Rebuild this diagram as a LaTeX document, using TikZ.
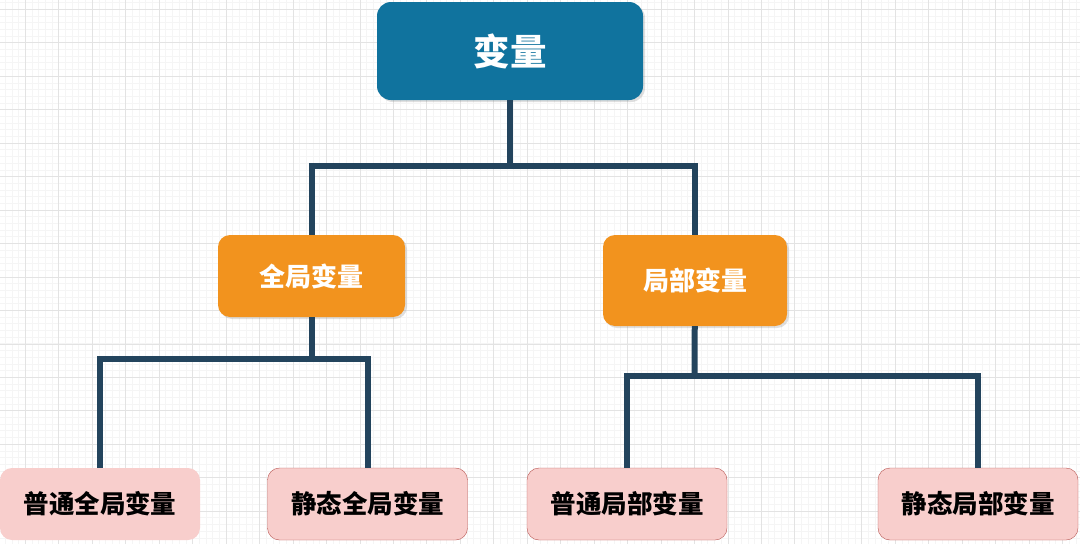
\documentclass[tikz,border=0pt]{standalone}
\usepackage{fontspec}
\setmainfont{Noto Sans CJK SC}
\usepackage{tikz}
\usetikzlibrary{positioning, shadows}

\definecolor{topblue}{HTML}{10739E}
\definecolor{midorange}{HTML}{F2931E}
\definecolor{leafpink}{HTML}{F8CECC}
\definecolor{leafline}{HTML}{B85450}
\definecolor{connblue}{HTML}{23445D}
\definecolor{gridminor}{HTML}{F5F5F5}
\definecolor{gridmajor}{HTML}{E3E3E3}

\begin{document}
\begin{tikzpicture}[x=1pt, y=-1pt]
\tikzstyle{root}=[rectangle, rounded corners=14pt, fill=topblue, text=white,
        minimum width=266pt, minimum height=98pt, font=\bfseries\fontsize{36.5}{40}\selectfont,
        drop shadow={shadow xshift=2pt, shadow yshift=-2pt, opacity=0.25}]
\tikzstyle{branch}=[rectangle, rounded corners=12pt, fill=midorange, text=white,
        font=\bfseries\fontsize{26}{30}\selectfont,
        drop shadow={shadow xshift=2pt, shadow yshift=-2pt, opacity=0.25}]
\tikzstyle{leaf}=[rectangle, rounded corners=12pt, fill=leafpink, draw=leafline, text=black,
        minimum width=200pt, minimum height=72pt, font=\bfseries\fontsize{25.5}{30}\selectfont]
\tikzstyle{conn}=[-, draw=connblue, line width=6pt]

\def \dx {33.46}
\def \mx {6.692}

    \useasboundingbox (0,0) rectangle (1080,544);
    % background grid
    \begin{scope}
    \clip (0,0) rectangle (1080,544);
    \fill[white] (0,0) rectangle (1080,544);
    \foreach \i in {0,...,162}{
        \draw[gridminor, line width=0.8pt] ({-8.16+\i*\mx},0) -- ({-8.16+\i*\mx},544);
    }
    \foreach \i in {0,...,82}{
        \draw[gridminor, line width=0.8pt] (0,{2.6+\i*\mx}) -- (1080,{2.6+\i*\mx});
    }
    \foreach \i in {0,...,32}{
        \draw[gridmajor, line width=0.8pt] ({25.3+\i*\dx},0) -- ({25.3+\i*\dx},544);
    }
    \foreach \i in {0,...,16}{
        \draw[gridmajor, line width=0.8pt] (0,{9.3+\i*\dx}) -- (1080,{9.3+\i*\dx});
    }
    \end{scope}

    \node (var) [root] at (510,51) {变量};

    \node (glob) [branch, minimum width=187pt, minimum height=82pt] at (311.5,276) {全局变量};
    \node (loc) [branch, minimum width=184pt, minimum height=91pt] at (695,280.5) {局部变量};

    \node (pglob) [leaf, draw=none] at (100,504) {普通全局变量};
    \node (sglob) [leaf] at (367.5,504) {静态全局变量};
    \node (ploc) [leaf] at (627,504) {普通局部变量};
    \node (sloc) [leaf] at (978,504) {静态局部变量};

    \coordinate (j1) at (510,166);
    \coordinate (j2) at (311.5,359);
    \coordinate (j3) at (694.5,376);

\draw[conn] (var) -- (j1);
\draw[conn] (glob) |- (j1) -| (loc);

\draw[conn] (glob) -- (j2);
\draw[conn] (pglob) |- (j2) -| (sglob);

\draw[conn] (loc) -- (j3);
\draw[conn] (ploc) |- (j3) -| (sloc);

\end{tikzpicture}
\end{document}
